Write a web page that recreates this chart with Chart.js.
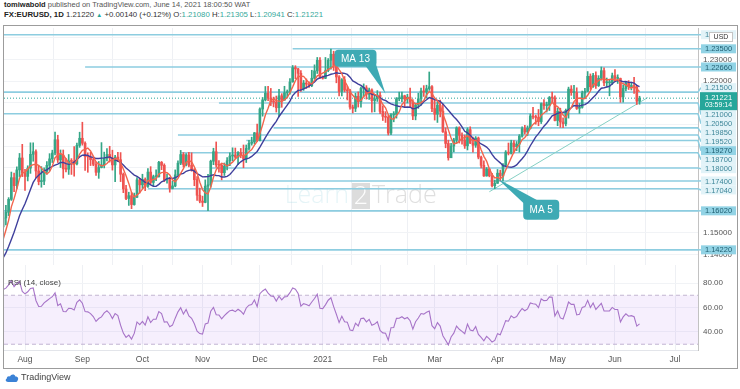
<!DOCTYPE html>
<html>
<head>
<meta charset="utf-8">
<script src="https://cdn.jsdelivr.net/npm/chart.js@4.4.0/dist/chart.umd.min.js"></script>
<style>
  body { margin: 0; width: 740px; height: 389px; background: #fff; position: relative; overflow: hidden;
         font-family: "Liberation Sans", Arial, sans-serif; }
  .hdr { position: absolute; left: 4px; white-space: nowrap; font-size: 7.5px; line-height: 10px; color: #555; }
  #h1 { top: 0px; }
  #h2 { top: 10px; color: #333; font-size: 7.8px; }
  .hdr b { color: #222; }
  .v { color: #36a99b; }
  .up { color: #26a69a; font-size: 6px; }
  #frame { position: absolute; left: 3px; top: 25px; width: 733px; height: 342px; border: 1px solid #9c9c9c; }
  #mainWrap { position: absolute; left: 0; top: 0; width: 733px; height: 239px; }
  #rsiWrap { position: absolute; left: 0; top: 239px; width: 733px; height: 103px; }
  #rsiTitle { position: absolute; left: 4px; top: 252px; font-size: 8px; color: #444; }
  #tv { position: absolute; left: 5px; top: 372px; font-size: 9px; color: #444; display: flex; align-items: center; }
  #tv svg { margin-right: 2px; }
</style>
</head>
<body>
<div id="h1" class="hdr"><b>tomiwabold</b> published on TradingView.com, June 14, 2021 18:00:50 WAT</div>
<div id="h2" class="hdr"><b>FX:EURUSD, 1D</b> 1.21220 <span class="up">&#9650;</span> +0.00140 (+0.12%) O:<span class="v">1.21080</span> H:<span class="v">1.21305</span> L:<span class="v">1.20941</span> C:<span class="v">1.21221</span></div>
<div id="frame">
  <div id="mainWrap"><canvas id="mainChart"></canvas></div>
  <div id="rsiWrap"><canvas id="rsiChart"></canvas></div>
  <div id="rsiTitle">RSI (14, close)</div>
</div>
<div id="tv"><svg width="14" height="9" viewBox="0 0 14 9"><path d="M3 9 C0.5 9 0 6.5 1.8 5.6 C1.6 3.4 3.8 2.6 5 3.6 C5.8 0.8 9.6 0.6 10.4 3.4 C12.8 3.2 14 5.6 12.6 7.4 C12.2 8.6 11.4 9 10.6 9 Z" fill="#3b82d6"/></svg>TradingView</div>

<script>
// EUR/USD daily, first candle Monday 2020-07-20 (earlier closes only seed MA / RSI)
const firstCandleDate = '2020-07-20';

// closes 2020-05-18 .. 2020-07-17, only used for the moving averages and RSI warm-up
const warmupCloses = [
  1.0916, 1.0925, 1.0999, 1.0951, 1.0902,
  1.0899, 1.0977, 1.1006, 1.1078, 1.1101,
  1.1134, 1.1170, 1.1234, 1.1338, 1.1289,
  1.1293, 1.1342, 1.1370, 1.1300, 1.1256,
  1.1330, 1.1265, 1.1245, 1.1205, 1.1177,
  1.1258, 1.1308, 1.1251, 1.1219, 1.1218,
  1.1243, 1.1233, 1.1251, 1.1239, 1.1245,
  1.1308, 1.1274, 1.1330, 1.1288, 1.1300,
  1.1343, 1.1408, 1.1412, 1.1383, 1.1428
];

// one row per week, Mon..Fri (open of each candle = previous close)
const closes = [
  1.1443, 1.1528, 1.1569, 1.1595, 1.1655,
  1.1755, 1.1718, 1.1791, 1.1846, 1.1778,
  1.1761, 1.1799, 1.1863, 1.1875, 1.1786,
  1.1737, 1.1739, 1.1784, 1.1812, 1.1842,
  1.1869, 1.1930, 1.1837, 1.1859, 1.1796,
  1.1794, 1.1832, 1.1830, 1.1819, 1.1904,
  1.1937, 1.1914, 1.1853, 1.1851, 1.1838,
  1.1817, 1.1780, 1.1802, 1.1814, 1.1845,
  1.1862, 1.1846, 1.1814, 1.1850, 1.1838,
  1.1771, 1.1703, 1.1659, 1.1672, 1.1631,
  1.1665, 1.1745, 1.1722, 1.1747, 1.1715,
  1.1781, 1.1733, 1.1760, 1.1760, 1.1826,
  1.1812, 1.1745, 1.1747, 1.1706, 1.1717,
  1.1768, 1.1822, 1.1862, 1.1816, 1.1860,
  1.1812, 1.1792, 1.1746, 1.1674, 1.1647,
  1.1641, 1.1716, 1.1722, 1.1831, 1.1875,
  1.1814, 1.1812, 1.1778, 1.1808, 1.1833,
  1.1855, 1.1860, 1.1850, 1.1871, 1.1859,
  1.1841, 1.1890, 1.1914, 1.1920, 1.1962,
  1.1927, 1.2072, 1.2114, 1.2145, 1.2122,
  1.2106, 1.2104, 1.2078, 1.2133, 1.2113,
  1.2147, 1.2152, 1.2197, 1.2263, 1.2257,
  1.2237, 1.2166, 1.2192, 1.2187, 1.2180,
  1.2214, 1.2248, 1.2297, 1.2216, 1.2214,
  1.2249, 1.2297, 1.2325, 1.2273, 1.2220,
  1.2153, 1.2207, 1.2159, 1.2156, 1.2081,
  1.2075, 1.2131, 1.2106, 1.2167, 1.2170,
  1.2140, 1.2160, 1.2111, 1.2119, 1.2136,
  1.2061, 1.2038, 1.2034, 1.1961, 1.2045,
  1.2047, 1.2119, 1.2120, 1.2133, 1.2118,
  1.2127, 1.2105, 1.2040, 1.2091, 1.2119,
  1.2155, 1.2151, 1.2166, 1.2175, 1.2074,
  1.2048, 1.2090, 1.2062, 1.1967, 1.1913,
  1.1847, 1.1901, 1.1929, 1.1985, 1.1951,
  1.1929, 1.1902, 1.1977, 1.1915, 1.1905,
  1.1938, 1.1850, 1.1812, 1.1763, 1.1795,
  1.1764, 1.1718, 1.1729, 1.1776, 1.1763,
  1.1813, 1.1873, 1.1868, 1.1915, 1.1898,
  1.1910, 1.1947, 1.1981, 1.1966, 1.1983,
  1.2040, 1.2035, 1.2033, 1.2014, 1.2097,
  1.2088, 1.2089, 1.2125, 1.2123, 1.2019,
  1.2061, 1.2012, 1.2004, 1.2066, 1.2164,
  1.2148, 1.2148, 1.2075, 1.2080, 1.2146,
  1.2154, 1.2223, 1.2175, 1.2227, 1.2180,
  1.2214, 1.2249, 1.2193, 1.2193, 1.2193,
  1.2226, 1.2213, 1.2213, 1.2128, 1.2167,
  1.2192, 1.2176, 1.2180, 1.2173, 1.2108,
  1.2122
];

const highs = [
  1.1468, 1.1546, 1.1601, 1.1627, 1.1663,
  1.1781, 1.1776, 1.1805, 1.1867, 1.1909,
  1.1794, 1.1810, 1.1916, 1.1916, 1.1884,
  1.1808, 1.1806, 1.1800, 1.1829, 1.1866,
  1.1882, 1.1966, 1.1951, 1.1883, 1.1883,
  1.1843, 1.1862, 1.1843, 1.1899, 1.1915,
  1.1965, 1.2011, 1.1921, 1.1870, 1.1872,
  1.1847, 1.1828, 1.1830, 1.1917, 1.1873,
  1.1889, 1.1900, 1.1882, 1.1858, 1.1872,
  1.1871, 1.1777, 1.1720, 1.1688, 1.1686,
  1.1684, 1.1755, 1.1753, 1.1771, 1.1754,
  1.1797, 1.1806, 1.1767, 1.1791, 1.1831,
  1.1830, 1.1819, 1.1772, 1.1756, 1.1740,
  1.1791, 1.1833, 1.1881, 1.1871, 1.1866,
  1.1872, 1.1870, 1.1797, 1.1760, 1.1707,
  1.1670, 1.1745, 1.1770, 1.1836, 1.1891,
  1.1920, 1.1834, 1.1819, 1.1823, 1.1848,
  1.1870, 1.1893, 1.1892, 1.1875, 1.1890,
  1.1906, 1.1906, 1.1927, 1.1942, 1.1964,
  1.2002, 1.2077, 1.2125, 1.2176, 1.2177,
  1.2167, 1.2127, 1.2132, 1.2163, 1.2143,
  1.2177, 1.2160, 1.2212, 1.2273, 1.2272,
  1.2260, 1.2250, 1.2204, 1.2211, 1.2197,
  1.2251, 1.2276, 1.2310, 1.2310, 1.2225,
  1.2310, 1.2305, 1.2349, 1.2339, 1.2280,
  1.2226, 1.2212, 1.2222, 1.2177, 1.2163,
  1.2091, 1.2145, 1.2151, 1.2173, 1.2188,
  1.2180, 1.2169, 1.2165, 1.2140, 1.2157,
  1.2150, 1.2087, 1.2060, 1.2042, 1.2051,
  1.2060, 1.2125, 1.2150, 1.2150, 1.2136,
  1.2140, 1.2169, 1.2116, 1.2096, 1.2145,
  1.2169, 1.2180, 1.2182, 1.2243, 1.2180,
  1.2113, 1.2107, 1.2113, 1.2095, 1.1985,
  1.1928, 1.1914, 1.1937, 1.1990, 1.1990,
  1.1962, 1.1952, 1.1985, 1.1990, 1.1942,
  1.1945, 1.1943, 1.1855, 1.1833, 1.1802,
  1.1797, 1.1775, 1.1744, 1.1793, 1.1790,
  1.1820, 1.1880, 1.1915, 1.1928, 1.1926,
  1.1922, 1.1954, 1.1990, 1.1997, 1.1994,
  1.2049, 1.2080, 1.2044, 1.2070, 1.2100,
  1.2116, 1.2104, 1.2130, 1.2150, 1.2133,
  1.2077, 1.2076, 1.2031, 1.2072, 1.2173,
  1.2180, 1.2181, 1.2170, 1.2098, 1.2155,
  1.2167, 1.2245, 1.2234, 1.2237, 1.2244,
  1.2226, 1.2266, 1.2262, 1.2215, 1.2205,
  1.2238, 1.2254, 1.2230, 1.2215, 1.2184,
  1.2200, 1.2203, 1.2196, 1.2218, 1.2182,
  1.2131
];

const lows = [
  1.1422, 1.1428, 1.1510, 1.1537, 1.1580,
  1.1650, 1.1690, 1.1705, 1.1760, 1.1760,
  1.1696, 1.1740, 1.1775, 1.1831, 1.1755,
  1.1722, 1.1711, 1.1723, 1.1771, 1.1788,
  1.1825, 1.1860, 1.1825, 1.1802, 1.1753,
  1.1782, 1.1770, 1.1770, 1.1762, 1.1814,
  1.1895, 1.1905, 1.1789, 1.1780, 1.1811,
  1.1810, 1.1765, 1.1752, 1.1800, 1.1800,
  1.1832, 1.1827, 1.1790, 1.1737, 1.1829,
  1.1737, 1.1686, 1.1654, 1.1627, 1.1612,
  1.1628, 1.1663, 1.1684, 1.1705, 1.1695,
  1.1710, 1.1725, 1.1717, 1.1741, 1.1757,
  1.1792, 1.1737, 1.1730, 1.1688, 1.1703,
  1.1713, 1.1763, 1.1815, 1.1804, 1.1809,
  1.1805, 1.1785, 1.1718, 1.1650, 1.1639,
  1.1622, 1.1639, 1.1603, 1.1711, 1.1815,
  1.1803, 1.1780, 1.1745, 1.1765, 1.1791,
  1.1810, 1.1833, 1.1844, 1.1815, 1.1847,
  1.1801, 1.1825, 1.1882, 1.1905, 1.1911,
  1.1923, 1.1925, 1.2039, 1.2109, 1.2110,
  1.2088, 1.2082, 1.2058, 1.2036, 1.2080,
  1.2113, 1.2123, 1.2140, 1.2196, 1.2212,
  1.2130, 1.2153, 1.2158, 1.2167, 1.2172,
  1.2175, 1.2210, 1.2236, 1.2213, 1.2210,
  1.2212, 1.2244, 1.2256, 1.2250, 1.2193,
  1.2132, 1.2133, 1.2151, 1.2114, 1.2071,
  1.2054, 1.2060, 1.2081, 1.2080, 1.2130,
  1.2118, 1.2116, 1.2057, 1.2059, 1.2107,
  1.2050, 1.2019, 1.2010, 1.1952, 1.1954,
  1.2013, 1.2030, 1.2110, 1.2106, 1.2080,
  1.2100, 1.2082, 1.2023, 1.2022, 1.2075,
  1.2090, 1.2130, 1.2122, 1.2158, 1.2060,
  1.2021, 1.2010, 1.2035, 1.1964, 1.1893,
  1.1836, 1.1847, 1.1874, 1.1913, 1.1915,
  1.1910, 1.1890, 1.1883, 1.1912, 1.1873,
  1.1895, 1.1842, 1.1800, 1.1761, 1.1762,
  1.1759, 1.1712, 1.1704, 1.1730, 1.1740,
  1.1740, 1.1805, 1.1860, 1.1864, 1.1869,
  1.1880, 1.1873, 1.1942, 1.1956, 1.1950,
  1.1980, 1.2026, 1.2002, 1.1995, 1.2005,
  1.2070, 1.2058, 1.2065, 1.2104, 1.2017,
  1.1995, 1.1987, 1.1986, 1.1994, 1.2030,
  1.2135, 1.2120, 1.2070, 1.2052, 1.2076,
  1.2120, 1.2152, 1.2162, 1.2172, 1.2167,
  1.2176, 1.2205, 1.2180, 1.2174, 1.2133,
  1.2185, 1.2200, 1.2190, 1.2103, 1.2104,
  1.2155, 1.2162, 1.2160, 1.2144, 1.2093,
  1.2094
];

const lastPrice = 1.21221;
const countdown = '03:59:14';

// horizontal support / resistance rays
const levelPrices = [1.2415, 1.2350, 1.2266, 1.2150, 1.2100, 1.2050, 1.1985, 1.1952, 1.1927,
                     1.1870, 1.1800, 1.1740, 1.1704, 1.1602, 1.1422];
const levelStartDates = ['2020-07-20', '2020-12-17', '2020-09-02', '2020-07-20', '2020-11-10', '2020-07-20',
                         '2020-12-08', '2020-10-20', '2020-11-24', '2020-10-21', '2020-11-05', '2020-11-05',
                         '2020-10-05', '2020-07-20', '2020-07-20'];
const strongLevels = [1.2350, 1.2266, 1.1927, 1.1602, 1.1422];

// rising trend line
const trendDates = ['2021-03-29', '2021-06-17'];
const trendPrices = [1.1690, 1.2125];

// callouts
const calloutTexts = ['MA 13', 'MA 5'];
const calloutDates = ['2021-01-19', '2021-04-23'];
const calloutPrices = [1.2306, 1.1607];
const calloutTipDates = ['2021-02-03', '2021-04-01'];
const calloutTipPrices = [1.2142, 1.1750];

const priceAxisLabels = [1.23, 1.22, 1.15, 1.14];
const rsiAxisLabels = [40, 60, 80];
const monthTickLabels = ['Aug', 'Sep', 'Oct', 'Nov', 'Dec', '2021', 'Feb', 'Mar', 'Apr', 'May', 'Jun', 'Jul'];

// visible window (trading-day index from firstCandleDate, price, rsi)
const viewStart = 2.31, viewEnd = 256.4;
const priceMin = 1.1352, priceMax = 1.2446;
const rsiMin = 25.3, rsiMax = 94.7;

const UP = '#35a687', DOWN = '#ef5350';
const LEVEL = '#8dcde0';

// ---- trading days (weekdays) ----
const days = [];
{
  const d = new Date(firstCandleDate + 'T00:00:00Z');
  while (days.length < 262) {
    const wd = d.getUTCDay();
    if (wd > 0 && wd < 6) days.push(d.toISOString().slice(0, 10));
    d.setUTCDate(d.getUTCDate() + 1);
  }
}
const dayIdx = s => days.indexOf(s);
const monthTicks = [];
for (let i = 1; i < days.length; i++) {
  if (days[i].slice(5, 7) !== days[i - 1].slice(5, 7)) monthTicks.push(i);
}

// ---- indicators ----
const allCloses = warmupCloses.concat(closes);
const W = warmupCloses.length;

function sma(vals, n) {
  return vals.map((_, i) => i < n - 1 ? null : vals.slice(i - n + 1, i + 1).reduce((a, b) => a + b, 0) / n);
}
function rsi(vals, n) {
  const out = vals.map(() => null);
  let ag = 0, al = 0;
  for (let i = 1; i < vals.length; i++) {
    const d = vals[i] - vals[i - 1];
    const g = Math.max(d, 0), l = Math.max(-d, 0);
    if (i <= n) {
      ag += g / n; al += l / n;
      if (i === n) out[i] = 100 - 100 / (1 + ag / al);
    } else {
      ag = (ag * (n - 1) + g) / n;
      al = (al * (n - 1) + l) / n;
      out[i] = al === 0 ? 100 : 100 - 100 / (1 + ag / al);
    }
  }
  return out;
}
const ma5 = sma(allCloses, 5);
const ma13 = sma(allCloses, 13);
const rsi14 = rsi(allCloses, 14);

// ---- candle datasets ----
const wickData = [], bodyData = [], candleColors = [];
closes.forEach((c, i) => {
  const o = allCloses[W + i - 1];
  wickData.push({ x: i, y: [Math.min(lows[i], o, c), Math.max(highs[i], o, c)] });
  bodyData.push({ x: i, y: [Math.min(o, c), Math.max(o, c)] });
  candleColors.push(c >= o ? UP : DOWN);
});
const ma5Data = closes.map((_, i) => ({ x: i, y: ma5[W + i] }));
const ma13Data = closes.map((_, i) => ({ x: i, y: ma13[W + i] }));
const rsiData = closes.map((_, i) => ({ x: i, y: rsi14[W + i] }));

const levelDatasets = levelPrices.map((p, k) => ({
  type: 'line',
  data: [{ x: dayIdx(levelStartDates[k]), y: p }, { x: viewEnd, y: p }],
  borderColor: LEVEL, borderWidth: 1.6, pointRadius: 0, order: 20
}));

Chart.defaults.font.family = '"Liberation Sans", Arial, sans-serif';
Chart.defaults.animation = false;

// fixed axis sizes so both panes share the same plot box
const axisW = s => { s.width = 39; s.paddingTop = 0; s.paddingBottom = 0; };

const xMain = {
  type: 'linear', min: viewStart, max: viewEnd, offset: false,
  afterBuildTicks: s => { s.ticks = monthTicks.map(v => ({ value: v })); },
  afterFit: s => { s.height = 0; s.paddingLeft = 0; s.paddingRight = 0; },
  ticks: { display: false },
  grid: { color: '#eef0f4', drawTicks: false },
  border: { display: false }
};

const overlay = {
  id: 'overlay',
  beforeDatasetsDraw(chart) {
    const { ctx, chartArea: a } = chart;
    ctx.save();
    const cx = a.left + 357, cy = a.top + 168;
    ctx.font = '300 25px "Open Sans", sans-serif';
    ctx.textBaseline = 'middle';
    ctx.fillStyle = 'rgba(150, 210, 225, 0.25)';
    ctx.textAlign = 'right';
    ctx.fillText('Learn', cx - 12, cy);
    ctx.fillStyle = 'rgba(150, 150, 150, 0.33)';
    ctx.fillRect(cx - 9, cy - 13, 18, 26);
    ctx.fillStyle = 'rgba(255,255,255,0.95)';
    ctx.textAlign = 'center';
    ctx.fillText('2', cx, cy + 1);
    ctx.fillStyle = 'rgba(140, 140, 140, 0.28)';
    ctx.textAlign = 'left';
    ctx.fillText('Trade', cx + 11, cy);
    ctx.restore();
  },
  afterDatasetsDraw(chart) {
    const { ctx, scales: { x, y } } = chart;
    ctx.save();
    calloutTexts.forEach((t, k) => {
      const bx = x.getPixelForValue(dayIdx(calloutDates[k]));
      const by = y.getPixelForValue(calloutPrices[k]);
      const tx = x.getPixelForValue(dayIdx(calloutTipDates[k]));
      const ty = y.getPixelForValue(calloutTipPrices[k]);
      const w = k === 0 ? 42 : 36, h = k === 0 ? 17 : 20;
      const l = bx - w / 2, tp = by - h / 2;
      ctx.fillStyle = '#3eaab4';
      ctx.beginPath();
      if (ty > by) { ctx.moveTo(l + w - 11, tp + h - 1); ctx.lineTo(l + w - 1, tp + h - 4); }
      else { ctx.moveTo(l + 1, tp + 4); ctx.lineTo(l + 15, tp + 1); }
      ctx.lineTo(tx, ty);
      ctx.closePath();
      ctx.fill();
      ctx.beginPath();
      ctx.roundRect(l, tp, w, h, 4);
      ctx.fill();
      ctx.fillStyle = '#fff';
      ctx.font = '10px "Liberation Sans", Arial';
      ctx.textAlign = 'center';
      ctx.textBaseline = 'middle';
      ctx.fillText(t, bx, by + 0.5);
    });
    ctx.restore();
  },
  afterDraw(chart) {
    const { ctx, chartArea: a, scales: { y } } = chart;
    const bx = a.right + 3, bw = 35, h = 9;
    const curY = y.getPixelForValue(lastPrice);
    const curTop = curY - 6, curBot = curY + 12;
    const placed = [];
    let lim = curTop;
    levelPrices.filter(p => p > lastPrice).sort((p, q) => p - q).forEach(p => {
      const n = y.getPixelForValue(p);
      const c = Math.min(n, lim - h / 2);
      placed.push({ p, n, c }); lim = c - h / 2;
    });
    lim = curBot;
    levelPrices.filter(p => p < lastPrice).sort((p, q) => q - p).forEach(p => {
      const n = y.getPixelForValue(p);
      const c = Math.max(n, lim + h / 2);
      placed.push({ p, n, c }); lim = c + h / 2;
    });
    ctx.save();
    ctx.font = '7.5px "Liberation Sans", Arial';
    ctx.textAlign = 'center';
    ctx.textBaseline = 'middle';
    placed.forEach(({ p, n, c }) => {
      const strong = strongLevels.includes(p);
      ctx.strokeStyle = LEVEL; ctx.lineWidth = 1.5;
      ctx.beginPath(); ctx.moveTo(a.right, n); ctx.lineTo(bx, c); ctx.stroke();
      ctx.fillStyle = strong ? '#92d3e5' : '#e2f3f8';
      ctx.fillRect(bx, c - h / 2, bw, h);
      ctx.fillStyle = strong ? '#1f5e71' : '#3f8799';
      ctx.fillText(p.toFixed(5), bx + bw / 2, c + 0.5);
    });
    // current price
    ctx.fillStyle = '#26a69a';
    ctx.fillRect(bx - 1, curTop, bw + 2, curBot - curTop);
    ctx.fillStyle = '#fff';
    ctx.fillText(lastPrice.toFixed(5), bx + bw / 2, curY);
    ctx.font = '7px "Liberation Sans", Arial';
    ctx.fillText(countdown, bx + bw / 2, curY + 7);
    // currency button
    ctx.fillStyle = '#fff';
    ctx.strokeStyle = '#c4c4c4'; ctx.lineWidth = 1;
    ctx.fillRect(bx + 8, a.top + 4, 24, 10);
    ctx.strokeRect(bx + 8.5, a.top + 4.5, 23, 9);
    ctx.fillStyle = '#333';
    ctx.font = '7px "Liberation Sans", Arial';
    ctx.fillText('USD', bx + 20, a.top + 9.5);
    ctx.restore();
  }
};

new Chart(document.getElementById('mainChart'), {
  type: 'bar',
  data: {
    datasets: [
      { type: 'line', data: ma5Data, borderColor: '#f2654c', borderWidth: 1.4, pointRadius: 0, order: 1 },
      { type: 'line', data: ma13Data, borderColor: '#3f3f9c', borderWidth: 1.4, pointRadius: 0, order: 2 },
      { type: 'bar', data: bodyData, backgroundColor: candleColors, barThickness: 2, minBarLength: 1, grouped: false, order: 4 },
      { type: 'bar', data: wickData, backgroundColor: candleColors, barThickness: 1, grouped: false, order: 5 },
      { type: 'line', data: [{ x: viewStart, y: lastPrice }, { x: viewEnd, y: lastPrice }],
        borderColor: '#26a69a', borderWidth: 1, borderDash: [1, 2], pointRadius: 0, order: 8 },
      { type: 'line', data: trendDates.map((d, k) => ({ x: dayIdx(d), y: trendPrices[k] })),
        borderColor: '#86d0c4', borderWidth: 1, pointRadius: 0, order: 9 },
      ...levelDatasets
    ]
  },
  options: {
    responsive: true, maintainAspectRatio: false, devicePixelRatio: 1, events: [],
    layout: { padding: { top: 2, left: 0, right: 0, bottom: 0 } },
    plugins: { legend: { display: false }, tooltip: { enabled: false } },
    scales: {
      x: xMain,
      y: {
        position: 'right', min: priceMin, max: priceMax,
        afterBuildTicks: s => { s.ticks = []; for (let v = 114; v <= 124; v++) s.ticks.push({ value: v / 100 }); },
        afterFit: axisW,
        ticks: {
          padding: 5, color: '#555', font: { size: 8 },
          callback: v => priceAxisLabels.some(p => Math.abs(p - v) < 1e-6) ? v.toFixed(5) : ''
        },
        grid: { color: '#f1f3f6', drawTicks: false },
        border: { display: true, color: '#c2c2c2' }
      }
    }
  },
  plugins: [overlay]
});

new Chart(document.getElementById('rsiChart'), {
  type: 'line',
  data: {
    datasets: [
      { data: rsiData, borderColor: '#a774c8', borderWidth: 1.1, pointRadius: 0, order: 1 },
      { data: [{ x: viewStart, y: 70 }, { x: viewEnd, y: 70 }], borderColor: '#c3b6d2', borderWidth: 1,
        borderDash: [4, 3], pointRadius: 0, fill: { target: { value: 30 } },
        backgroundColor: 'rgba(172, 110, 235, 0.11)', order: 3 },
      { data: [{ x: viewStart, y: 30 }, { x: viewEnd, y: 30 }], borderColor: '#c3b6d2', borderWidth: 1,
        borderDash: [4, 3], pointRadius: 0, order: 3 }
    ]
  },
  options: {
    responsive: true, maintainAspectRatio: false, devicePixelRatio: 1, events: [],
    layout: { padding: 0 },
    plugins: { legend: { display: false }, tooltip: { enabled: false } },
    scales: {
      x: {
        type: 'linear', min: viewStart, max: viewEnd, offset: false,
        afterBuildTicks: s => { s.ticks = monthTicks.map(v => ({ value: v })); },
        afterFit: s => { s.height = 18; s.paddingLeft = 0; s.paddingRight = 0; },
        ticks: { autoSkip: false, maxRotation: 0, padding: 5, color: '#555', font: { size: 8.5 },
                 callback: (v, i) => monthTickLabels[i] || '' },
        grid: { color: '#eef0f4', drawTicks: false },
        border: { display: true, color: '#e3e5ea' }
      },
      y: {
        position: 'right', min: rsiMin, max: rsiMax,
        afterBuildTicks: s => { s.ticks = rsiAxisLabels.map(v => ({ value: v })); },
        afterFit: axisW,
        ticks: { padding: 5, color: '#555', font: { size: 8 }, callback: v => v.toFixed(2) },
        grid: { color: '#f1f3f6', drawTicks: false },
        border: { display: true, color: '#c2c2c2' }
      }
    }
  }
});
</script>
</body>
</html>
